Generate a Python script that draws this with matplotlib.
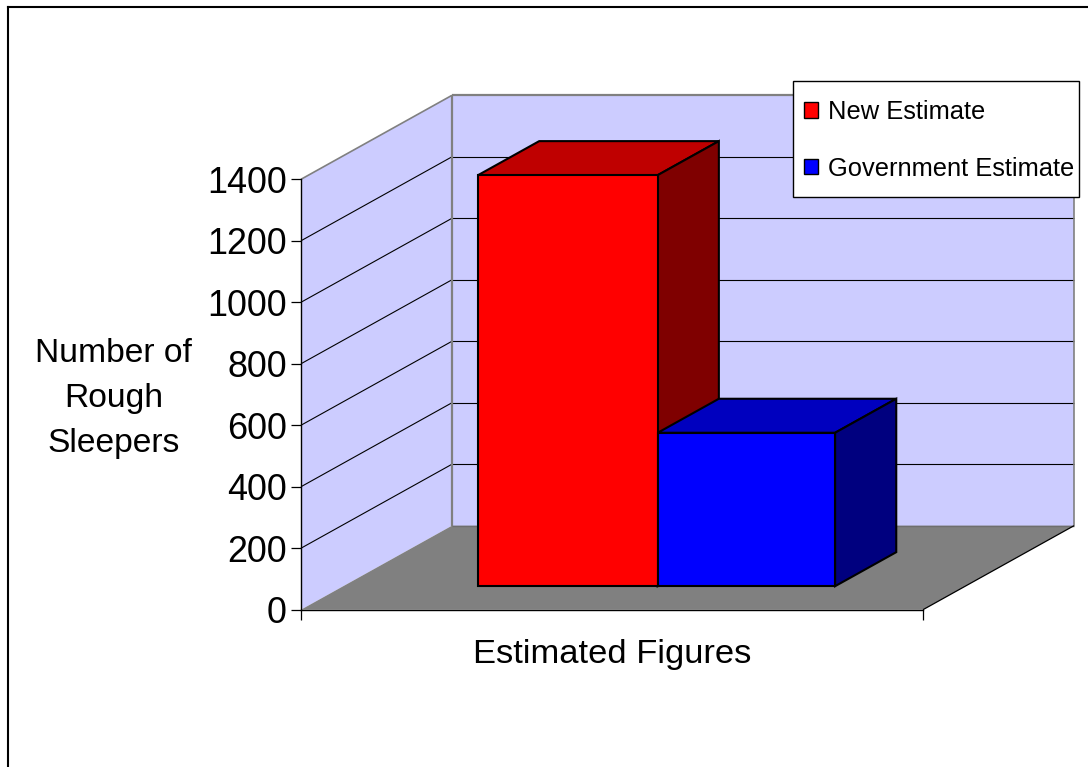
import matplotlib
matplotlib.use('Agg')
import matplotlib.pyplot as plt
from matplotlib.lines import Line2D
from matplotlib.patches import Patch, Rectangle

plt.rcParams['font.family'] = ['Liberation Sans', 'DejaVu Sans']

series_names = ['New Estimate', 'Government Estimate']
series_values = [1337, 499]
y_ticks = [0, 200, 400, 600, 800, 1000, 1200, 1400]
x_label = 'Estimated Figures'
y_label = 'Number of\nRough\nSleepers'

face_colors = ['#FF0000', '#0000FF']
top_colors = ['#BF0000', '#0000BF']
side_colors = ['#7F0000', '#00007F']

W, H = 1088, 767
fig = plt.figure(figsize=(W / 100, H / 100), dpi=100, facecolor='white')
ax = fig.add_axes([301 / W, (H - 609.7) / H, 622 / W, 430.4 / H])
ax.set_xlim(0, 1)
ax.set_ylim(0, 1400)
ax.patch.set_visible(False)

# how far the back of the box is shifted, in axis units
depth_x = 151 / 622
depth_y = 84 * 1400 / 430.4


def proj(x, v, d):
    return x + d * depth_x, v + d * depth_y


def face(points, color, edge='none', lw=0, z=1):
    xs, ys = zip(*[proj(*p) for p in points])
    ax.fill(xs, ys, facecolor=color, edgecolor=edge, linewidth=lw, zorder=z,
            clip_on=False, joinstyle='miter')


def line(p0, p1, color, lw, z=2):
    x0, y0 = proj(*p0)
    x1, y1 = proj(*p1)
    ax.plot([x0, x1], [y0, y1], color=color, lw=lw, zorder=z, clip_on=False,
            solid_capstyle='butt')


# walls and floor
top = y_ticks[-1]
face([(0, 0, 0), (0, top, 0), (0, top, 1), (0, 0, 1)], '#CCCCFF')
face([(0, 0, 1), (0, top, 1), (1, top, 1), (1, 0, 1)], '#CCCCFF')
face([(0, 0, 0), (1, 0, 0), (1, 0, 1), (0, 0, 1)], '#808080')

for v in y_ticks[1:-1]:
    line((0, v, 0), (0, v, 1), 'black', 0.8)
    line((0, v, 1), (1, v, 1), 'black', 0.8)
line((0, top, 0), (0, top, 1), '#808080', 1.2)
line((0, top, 1), (1, top, 1), '#808080', 1.6)
line((0, 0, 1), (0, top, 1), '#808080', 1.6)
line((1, 0, 1), (1, top, 1), '#808080', 1.2)
line((0, 0, 1), (1, 0, 1), '#6E6E6E', 1.0)
line((1, 0, 0), (1, 0, 1), 'black', 0.9)

# the two bars, each one a front, top and side face
bar_edges = [0.2167, 0.5055, 0.7907]
d0, d1 = 0.28, 0.685
for i, val in enumerate(series_values):
    x0, x1 = bar_edges[i], bar_edges[i + 1]
    z = 3 + i
    face([(x0, val, d0), (x1, val, d0), (x1, val, d1), (x0, val, d1)],
         top_colors[i], 'black', 1.5, z)
    face([(x1, 0, d0), (x1, val, d0), (x1, val, d1), (x1, 0, d1)],
         side_colors[i], 'black', 1.5, z)
    face([(x0, 0, d0), (x1, 0, d0), (x1, val, d0), (x0, val, d0)],
         face_colors[i], 'black', 1.5, z)

for s in ['top', 'right']:
    ax.spines[s].set_visible(False)
for s in ['left', 'bottom']:
    ax.spines[s].set_linewidth(1.0)

ax.set_yticks(y_ticks)
ax.set_xticks([0, 1])
ax.set_xticklabels([])
ax.tick_params(axis='y', length=7.2, width=0.9, labelsize=25.8, pad=3)
ax.tick_params(axis='x', length=7.2, width=0.9)

ax.set_xlabel(x_label, fontsize=24.8, labelpad=10.5)
ax.set_ylabel(y_label, fontsize=24.2, rotation=0, ha='center', va='center',
              linespacing=1.6)
ax.yaxis.set_label_coords((113.5 - 301) / 622, (609.7 - 398.5) / 430.4)

# legend box is its own rectangle so the inner margins can differ
fig.add_artist(Rectangle((793 / W, 1 - 196.5 / H), 286 / W, 115.5 / H,
                         facecolor='white', edgecolor='black', lw=1.0,
                         transform=fig.transFigure, zorder=5))
handles = [Patch(facecolor=c, edgecolor='black', linewidth=1) for c in face_colors]
leg = fig.legend(handles, series_names, loc='upper left',
                 bbox_to_anchor=(785 / W, 1 - 81 / H), fontsize=18.4,
                 frameon=False, borderaxespad=0, borderpad=0.75, labelspacing=1.27,
                 handlelength=0.55, handleheight=0.55, handletextpad=0.4)
leg.set_zorder(6)

# outer frame of the chart area, open towards the right and the bottom
fig.add_artist(Line2D([8 / W, 8 / W], [0, 1 - 6.5 / H], color='black', lw=1.5,
                      transform=fig.transFigure))
fig.add_artist(Line2D([8 / W, 1], [1 - 6.5 / H, 1 - 6.5 / H], color='black', lw=1.5,
                      transform=fig.transFigure))

fig.savefig('out.png', dpi=100)
